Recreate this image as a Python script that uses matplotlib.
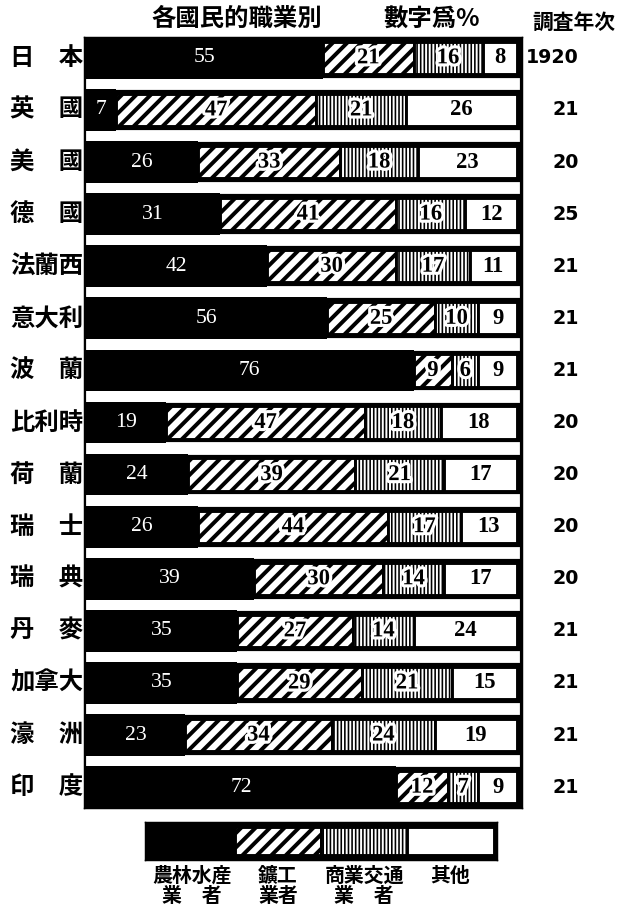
import matplotlib
matplotlib.use("Agg")
import matplotlib.pyplot as plt
import matplotlib.patheffects as pe
from matplotlib.transforms import blended_transform_factory
import numpy as np

# ---- data: occupational distribution by country (percent) ----
countries = ["日　本", "英　國", "美　國", "德　國", "法蘭西", "意大利", "波　蘭",
             "比利時", "荷　蘭", "瑞　士", "瑞　典", "丹　麥", "加拿大", "濠　洲", "印　度"]
agriculture = [55, 7, 26, 31, 42, 56, 76, 19, 24, 26, 39, 35, 35, 23, 72]
industry = [21, 47, 33, 41, 30, 25, 9, 47, 39, 44, 30, 27, 29, 34, 12]
commerce = [16, 21, 18, 16, 17, 10, 6, 18, 21, 17, 14, 14, 21, 24, 7]
other = [8, 26, 23, 12, 11, 9, 9, 18, 17, 13, 17, 24, 15, 19, 9]
survey_year = ["1920", "21", "20", "25", "21", "21", "21", "20", "20", "20",
               "20", "21", "21", "21", "21"]
occupations = ["農林水産\n業　者", "鑛工\n業者", "商業交通\n業　者", "其他"]
title_left = "各國民的職業別"
title_right = "數字爲%"
year_header = "調査年次"

CJK = ["Noto Sans CJK JP", "DejaVu Sans"]
SERIF = ["Liberation Serif", "DejaVu Serif"]

# per-occupation drawing style: face, hatch, hatch width, inner height
styles = [
    dict(face="black", hatch=None, hlw=0.0, h=0.8),
    dict(face="white", hatch="///", hlw=2.2, h=0.62),
    dict(face="white", hatch="||||||", hlw=0.9, h=0.62),
    dict(face="white", hatch=None, hlw=0.0, h=0.62),
]

W, H, DPI = 624, 910, 130
fig = plt.figure(figsize=(W / DPI, H / DPI), dpi=DPI)
fig.patch.set_facecolor("white")


def draw_segments(axis, ypos, widths, lefts, style, height, lw):
    with plt.rc_context({"hatch.linewidth": style["hlw"] if style["hlw"] else 1.0}):
        bars = axis.barh(ypos, widths, left=lefts, height=height,
                         color=style["face"], edgecolor="black",
                         linewidth=0 if style["face"] == "black" else lw,
                         hatch=style["hatch"], zorder=2)
    for p in bars:
        if style["hatch"] and hasattr(p, "set_hatch_linewidth"):
            p.set_hatch_linewidth(style["hlw"])
    return bars


# ---- main stacked bar block ----
ax = fig.add_axes([84 / W, 1 - 808 / H, 438 / W, 771 / H])
ax.set_facecolor("black")
ax.set_xlim(-0.46, 101.16)
n = len(countries)
ax.set_ylim(n - 1 + 0.4, -0.4)
ax.set_xticks([])
ax.set_yticks([])
for s in ax.spines.values():
    s.set_color("black")

# white separating strips between rows
for i in range(n - 1):
    ax.axhspan(i + 0.4, i + 0.6, xmin=0.007, xmax=0.994, color="white", zorder=1)

series = [np.array(agriculture), np.array(industry), np.array(commerce), np.array(other)]
totals = sum(series)
y = np.arange(n)
left = np.zeros(n)
halo = [pe.withStroke(linewidth=3.5, foreground="white")]
for k, (vals, st) in enumerate(zip(series, styles)):
    widths = vals * 100.0 / totals
    draw_segments(ax, y, widths, left, st, st["h"], 1.6)
    for i in range(n):
        cx = left[i] + widths[i] / 2
        if k == 0:
            ax.text(cx, y[i], str(vals[i]), ha="center", va="center",
                    color="white", fontsize=12, family=SERIF, zorder=4)
        else:
            ax.text(cx, y[i], str(vals[i]), ha="center", va="center",
                    color="black", fontsize=12.5, family=SERIF, weight="bold",
                    path_effects=halo if st["hatch"] else None, zorder=4)
    left = left + widths

# country names on the left, survey years on the right
trans = blended_transform_factory(fig.transFigure, ax.transData)
for i in range(n):
    ax.text(10 / W, y[i], countries[i], transform=trans, ha="left", va="center",
            fontsize=13.5, family=CJK, weight="bold", clip_on=False)
    ax.text(579 / W, y[i], survey_year[i], transform=trans, ha="right", va="center",
            fontsize=10.5, family=["DejaVu Sans"], weight="bold", clip_on=False)

# headings
fig.text(237 / W, 1 - 19 / H, title_left, ha="center", va="center",
         fontsize=13.5, family=CJK, weight="bold")
fig.text(432 / W, 1 - 19 / H, title_right, ha="center", va="center",
         fontsize=13.5, family=CJK, weight="bold")
fig.text(574 / W, 1 - 22 / H, year_header, ha="center", va="center",
         fontsize=11.5, family=CJK, weight="bold")

# ---- key bar ----
lax = fig.add_axes([145 / W, 1 - 860 / H, 352 / W, 38 / H])
lax.set_facecolor("black")
lax.set_xlim(-0.04, 4.04)
lax.set_ylim(-0.5, 0.5)
lax.set_xticks([])
lax.set_yticks([])
for s in lax.spines.values():
    s.set_color("black")
for k, st in enumerate(styles):
    draw_segments(lax, [0], [1], [k], st, 1.0 if k == 0 else 0.74, 1.6)
ltrans = blended_transform_factory(lax.transData, lax.transAxes)
for k, lab in enumerate(occupations):
    lax.text(k + 0.5, -0.12, lab, transform=ltrans, ha="center", va="top",
             fontsize=11, family=CJK, weight="bold", linespacing=0.95, clip_on=False)

fig.savefig("out.png", dpi=DPI, facecolor="white")
